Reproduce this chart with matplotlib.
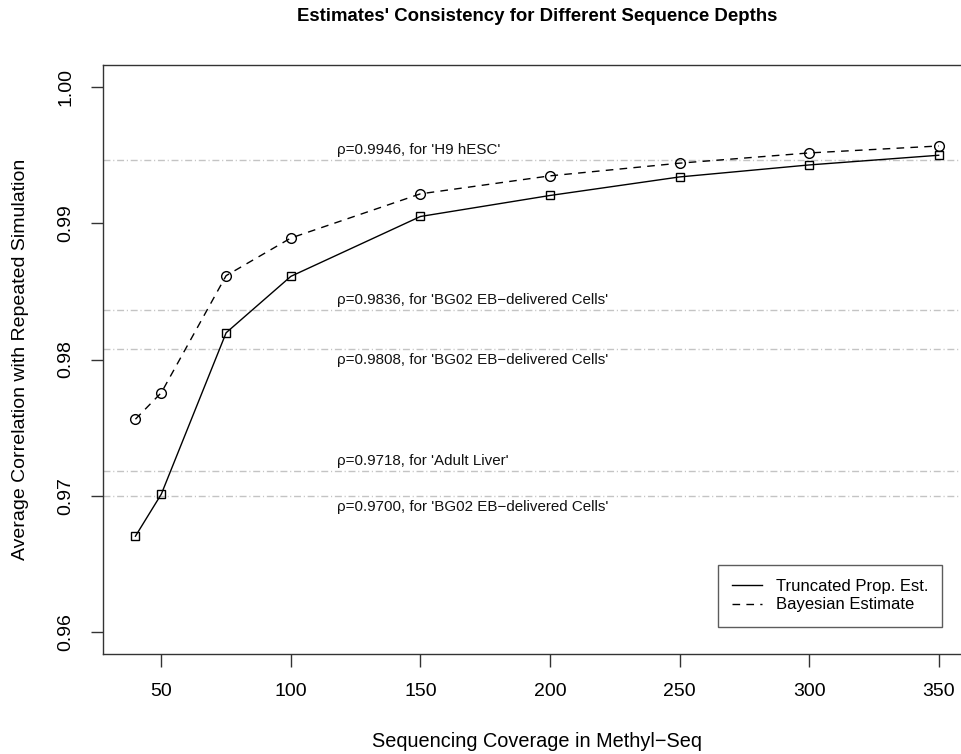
import matplotlib
matplotlib.use("Agg")
import matplotlib.pyplot as plt

plt.rcParams['font.family'] = ['Liberation Sans', 'DejaVu Sans']

coverage = [40, 50, 75, 100, 150, 200, 250, 300, 350]
truncated = [0.96704, 0.97013, 0.98196, 0.98610, 0.99049, 0.99203, 0.99339, 0.99427, 0.99498]
bayesian = [0.97562, 0.97757, 0.98615, 0.98891, 0.99215, 0.99347, 0.99440, 0.99515, 0.99566]

ref_values = [0.9946, 0.9836, 0.9808, 0.9718, 0.9700]
ref_labels = ["\u03c1=0.9946, for 'H9 hESC'",
              "\u03c1=0.9836, for 'BG02 EB\u2212delivered Cells'",
              "\u03c1=0.9808, for 'BG02 EB\u2212delivered Cells'",
              "\u03c1=0.9718, for 'Adult Liver'",
              "\u03c1=0.9700, for 'BG02 EB\u2212delivered Cells'"]
ref_above = [True, True, False, True, False]

xticks = [50, 100, 150, 200, 250, 300, 350]
yticks = [0.96, 0.97, 0.98, 0.99, 1.00]

W, H = 962, 754
fig = plt.figure(figsize=(W / 100, H / 100), dpi=100)
left, right, top, bottom = 103.3, 970.8, 65, 654
ax = fig.add_axes([left / W, 1 - bottom / H, (right - left) / W, (bottom - top) / H])
ax.set_xlim(27.6, 362.4)
ax.set_ylim(0.9584, 1.0016)

for v in ref_values:
    ax.axhline(v, color='#c4c4c4', lw=1.0, linestyle=(0, (5, 2, 0.8, 2)), zorder=1)

ax.plot(coverage, truncated, color='black', lw=1.0, marker='s', markersize=6,
        markerfacecolor='none', markeredgecolor='black', markeredgewidth=1.0,
        label='Truncated Prop. Est.', zorder=3)
ax.plot(coverage, bayesian, color='black', lw=1.0, linestyle=(0, (5.5, 4.5)), marker='o',
        markersize=7, markerfacecolor='none', markeredgecolor='black', markeredgewidth=1.0,
        label='Bayesian Estimate', zorder=3)

# annotations
xtext = 27.6 + (337 - left) / ((right - left) / (362.4 - 27.6))
for v, lab, above in zip(ref_values, ref_labels, ref_above):
    off = 7.5 if above else -8
    ax.annotate(lab, xy=(xtext, v), xytext=(0, off), textcoords='offset points',
                ha='left', va='center', fontsize=10.9, color='#111111')

ax.set_xticks(xticks)
ax.set_xticklabels([str(t) for t in xticks])
ax.set_yticks(yticks)
ax.set_yticklabels(["%.2f" % t for t in yticks], rotation=90, va='center')
ax.tick_params(axis='both', labelsize=14, length=9, width=1, color='#333333', direction='out')
ax.tick_params(axis='x', pad=12)
ax.tick_params(axis='y', pad=12)
for s in ax.spines.values():
    s.set_color('#333333')
    s.set_linewidth(1)

fig.text(537 / W, 1 - 741.5 / H, 'Sequencing Coverage in Methyl\u2212Seq', fontsize=14.3,
         ha='center', va='center')
ax.set_ylabel('Average Correlation with Repeated Simulation', fontsize=14, labelpad=20)
fig.text(537 / W, 1 - 16.5 / H, "Estimates' Consistency for Different Sequence Depths",
         fontsize=13.4, fontweight='bold', ha='center', va='center')

leg = ax.legend(loc='upper left',
                bbox_to_anchor=((718.3 - left) / (right - left), 1 - (565 - top) / (bottom - top)),
                borderaxespad=0,
                fontsize=12, frameon=True, fancybox=False, edgecolor='#333333',
                handlelength=1.75, borderpad=0.85, labelspacing=0.2, handletextpad=0.85)
leg.get_frame().set_linewidth(1)
for h in leg.legend_handles:
    h.set_marker('')

fig.savefig('out.png', dpi=100, facecolor='white')
